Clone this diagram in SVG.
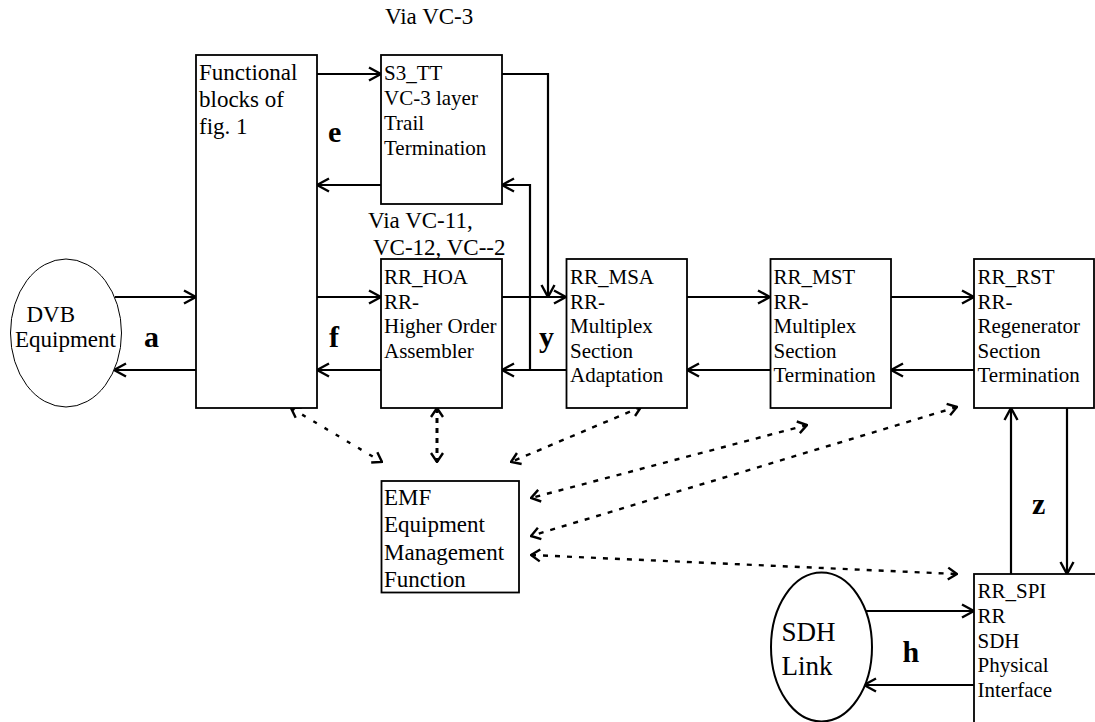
<svg xmlns="http://www.w3.org/2000/svg" width="1095" height="722" viewBox="0 0 1095 722" font-family="Liberation Serif, DejaVu Serif, serif">
<defs>
<marker id="ah" viewBox="-14 -8 15 16" markerWidth="15" markerHeight="16" refX="0" refY="0" orient="auto-start-reverse" markerUnits="userSpaceOnUse">
<path d="M-12,-6.5 L0,0 L-12,6.5" fill="none" stroke="#000" stroke-width="2.4"/>
</marker>
<marker id="dh" viewBox="-12 -8 13 16" markerWidth="13" markerHeight="16" refX="0" refY="0" orient="auto-start-reverse" markerUnits="userSpaceOnUse">
<path d="M-9,-6 L0,0 L-9,6" fill="none" stroke="#000" stroke-width="2.4"/>
</marker>
<style>
text{font-family:'Liberation Serif','DejaVu Serif',serif;fill:#000}
.box{fill:#fff;stroke:#000;stroke-width:1.8}
.t{font-size:21px}
.tl{font-size:23px}
.s{font-size:27px}
.b{font-size:30px;font-weight:bold}
.ca{fill:none;stroke:#000;stroke-width:2.2;marker-end:url(#ah)}
.d{fill:none;stroke:#000;stroke-width:2.4;stroke-dasharray:5 7;marker-start:url(#dh);marker-end:url(#dh)}
</style>
</defs>
<rect width="1095" height="722" fill="#fff"/>

<g id="connectors">
<path class="ca" d="M115,297 H196"/>
<path class="ca" d="M196,370 H114"/>
<path class="ca" d="M317,74 H381"/>
<path class="ca" d="M381,185 H317"/>
<path class="ca" d="M317,297 H381"/>
<path class="ca" d="M381,370 H317"/>
<path class="ca" d="M502,297 H566"/>
<path class="ca" d="M502,74 H548 V297"/>
<path class="ca" d="M566,370 H502"/>
<path class="ca" d="M530,370 V185 H502"/>
<path class="ca" d="M687,297 H770"/>
<path class="ca" d="M770,370 H687"/>
<path class="ca" d="M891,297 H974"/>
<path class="ca" d="M974,370 H891"/>
<path class="ca" d="M1011,574 V408"/>
<path class="ca" d="M1067,408 V574"/>
<path class="ca" d="M865,611 H974"/>
<path class="ca" d="M974,685 H864"/>
<path class="d" style="stroke-dasharray:4 9" d="M291,408 L382,462"/>
<path class="d" style="stroke-dasharray:5 5;stroke-width:3" d="M437,408 V462"/>
<path class="d" d="M641,407 L511,462"/>
<path class="d" d="M807,425 L531,498"/>
<path class="d" d="M957,407 L531,536"/>
<path class="d" d="M531,555 L957,574"/>
</g>

<g id="dvb">
<ellipse cx="66" cy="333" rx="55.5" ry="74" fill="#fff" stroke="#000" stroke-width="1"/>
<text class="tl" x="26.5" y="322">DVB</text>
<text class="tl" x="15" y="347">Equipment</text>
</g>

<g id="functional">
<rect class="box" x="196" y="55" width="121" height="353"/>
<text class="tl" x="199" y="80">Functional</text>
<text class="tl" x="199" y="107">blocks of</text>
<text class="tl" x="199" y="134">fig. 1</text>
</g>

<g id="s3tt">
<rect class="box" x="381" y="55" width="121" height="149"/>
<text class="t" x="384" y="80">S3_TT</text>
<text class="t" x="384" y="105">VC-3 layer</text>
<text class="t" x="384" y="130">Trail</text>
<text class="t" x="384" y="155">Termination</text>
</g>

<g id="hoa">
<rect class="box" x="381" y="259" width="121" height="149"/>
<text class="t" x="384" y="284">RR_HOA</text>
<text class="t" x="384" y="308.5">RR-</text>
<text class="t" x="384" y="333">Higher Order</text>
<text class="t" x="384" y="357.5">Assembler</text>
</g>

<g id="msa">
<rect class="box" x="566.5" y="259" width="120.5" height="149"/>
<text class="t" x="570" y="284">RR_MSA</text>
<text class="t" x="570" y="308.5">RR-</text>
<text class="t" x="570" y="333">Multiplex</text>
<text class="t" x="570" y="357.5">Section</text>
<text class="t" x="570" y="382">Adaptation</text>
</g>

<g id="mst">
<rect class="box" x="770.5" y="259" width="120.5" height="149"/>
<text class="t" x="773.5" y="284">RR_MST</text>
<text class="t" x="773.5" y="308.5">RR-</text>
<text class="t" x="773.5" y="333">Multiplex</text>
<text class="t" x="773.5" y="357.5">Section</text>
<text class="t" x="773.5" y="382">Termination</text>
</g>

<g id="rst">
<rect class="box" x="974" y="259" width="120" height="149"/>
<text class="t" x="977.5" y="284">RR_RST</text>
<text class="t" x="977.5" y="308.5">RR-</text>
<text class="t" x="977.5" y="333">Regenerator</text>
<text class="t" x="977.5" y="357.5">Section</text>
<text class="t" x="977.5" y="382">Termination</text>
</g>

<g id="emf">
<rect class="box" x="381.5" y="481" width="137.5" height="111.5"/>
<text class="tl" x="384" y="504.5">EMF</text>
<text class="tl" x="384" y="532">Equipment</text>
<text class="tl" x="384" y="559.5">Management</text>
<text class="tl" x="384" y="587">Function</text>
</g>

<g id="sdh">
<ellipse cx="821.5" cy="647" rx="50.5" ry="74.5" fill="#fff" stroke="#000" stroke-width="2"/>
<text class="s" x="781.5" y="641">SDH</text>
<text class="s" x="781.5" y="675">Link</text>
</g>

<g id="spi">
<rect class="box" x="974" y="574" width="125" height="152"/>
<text class="t" x="977.5" y="598">RR_SPI</text>
<text class="t" x="977.5" y="622.5">RR</text>
<text class="t" x="977.5" y="647.5">SDH</text>
<text class="t" x="977.5" y="672">Physical</text>
<text class="t" x="977.5" y="696.5">Interface</text>
</g>

<g id="labels">
<text class="tl" x="385" y="24">Via VC-3</text>
<text class="tl" x="368" y="228">Via VC-11,</text>
<text class="tl" x="373" y="255">VC-12, VC--2</text>
<text class="b" x="328" y="142">e</text>
<text class="b" x="144" y="347">a</text>
<text class="b" x="329" y="347">f</text>
<text class="b" x="539" y="347">y</text>
<text class="b" x="1032" y="514">z</text>
<text class="b" x="902.5" y="662">h</text>
</g>
</svg>
